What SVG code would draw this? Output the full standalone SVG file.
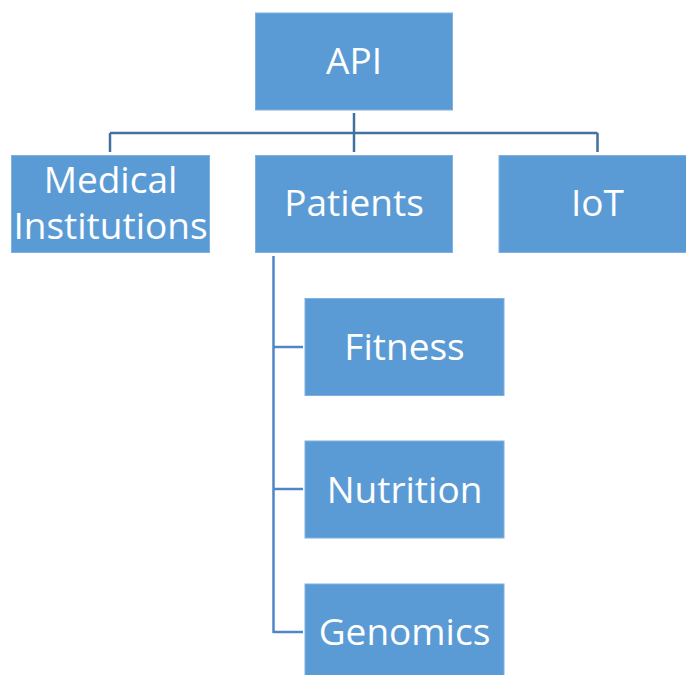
<svg xmlns="http://www.w3.org/2000/svg" width="686" height="675" viewBox="0 0 686 675">
<style>
.box{fill:#5B9BD5;stroke:#7FB0E0;stroke-width:1}
.lbl{fill:#ffffff;font-family:"Open Sans","Liberation Sans",sans-serif;font-size:37px;text-anchor:middle}
.c1{fill:none;stroke:#41719C;stroke-width:2.5}
.c2{fill:none;stroke:#4F86C6;stroke-width:2.5}
</style>
<rect width="686" height="675" fill="#ffffff"/>
<g id="connectors">
<path class="c1" d="M354,113 V133 M110,133 H597.5 M110,133 V152 M354,133 V152 M597.5,133 V152"/>
<path class="c2" d="M273.5,256 V633 M273.5,347 H303 M273.5,489 H303 M273.5,632 H303"/>
</g>
<g id="api"><rect class="box" x="255.5" y="13" width="197" height="97"/><text class="lbl" x="354" y="74">API</text></g>
<g id="medical"><rect class="box" x="11.5" y="155.5" width="198" height="97"/><text class="lbl" x="110.5" y="193">Medical</text><text class="lbl" x="110.5" y="239">Institutions</text></g>
<g id="patients"><rect class="box" x="255.5" y="155.5" width="197" height="97"/><text class="lbl" x="354" y="216">Patients</text></g>
<g id="iot"><rect class="box" x="499" y="155.5" width="190" height="97"/><text class="lbl" x="597.5" y="216">IoT</text></g>
<g id="fitness"><rect class="box" x="305" y="298.5" width="199" height="97"/><text class="lbl" x="404.5" y="360">Fitness</text></g>
<g id="nutrition"><rect class="box" x="305" y="441" width="199" height="97"/><text class="lbl" x="404.5" y="503">Nutrition</text></g>
<g id="genomics"><rect class="box" x="305" y="584" width="199" height="97"/><text class="lbl" x="404.5" y="645">Genomics</text></g>
</svg>
